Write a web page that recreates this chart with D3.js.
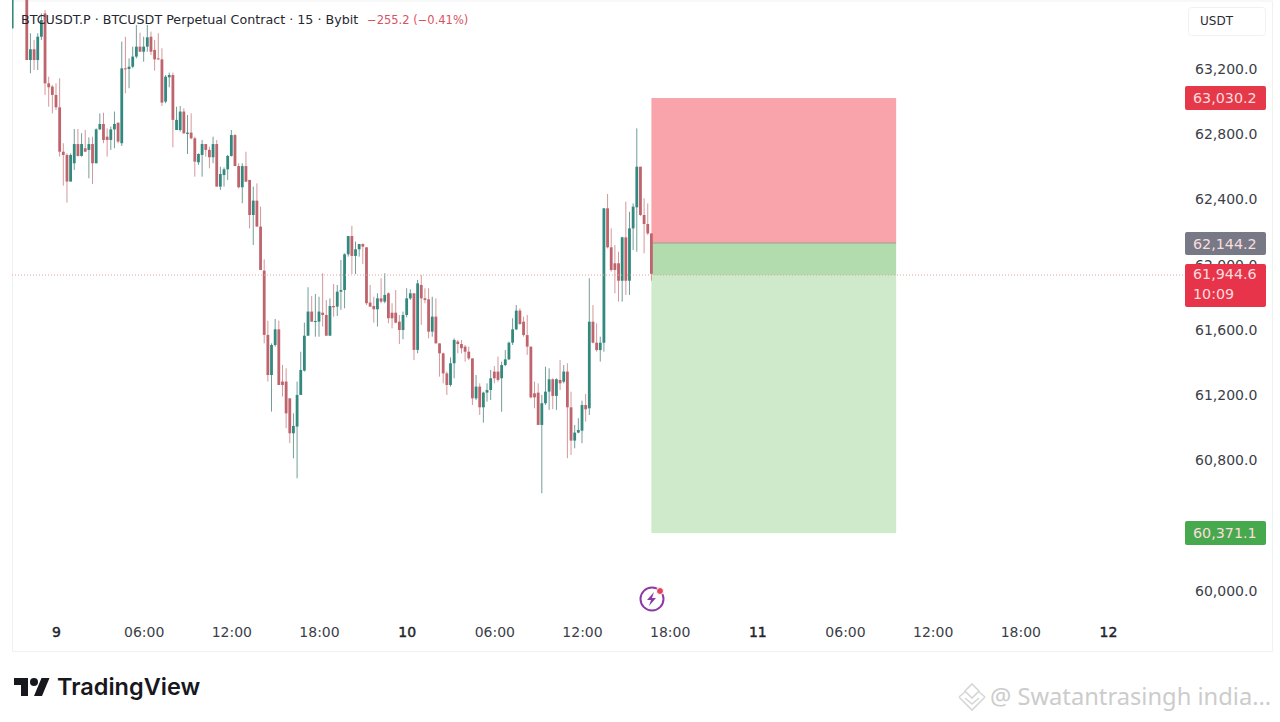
<!DOCTYPE html>
<html>
<head>
  <meta charset="utf-8">
  <title>BTCUSDT.P 15m</title>
  <script src="https://d3js.org/d3.v7.min.js"></script>
  <style>
    html, body { margin: 0; overflow: hidden; height: 100%; background: #fff; }
    text { font-family: "DejaVu Sans", sans-serif; }
    .axis path, .axis line { display: none; }
    .axis text { font-family: "DejaVu Sans", sans-serif; font-size: 14px; fill: #3b3e48; }
  </style>
</head>
<body>
<svg width="1280" height="722"></svg>

<script>
// 15 minute bars, first one is 21:00 the day before the "9" tick
const firstBar = -12;

const opens = [
  63449, null, null, null, 63650, 63255, 63321, 63255, 63398, 63541, 63112, 63092,
  63041, 62965, 62693, 62673, 62510, 62622, 62740, 62667, 62714, 62704,
  62740, 62622, 62830, 62863, 62785, 62765, 62830, 62871, 62745, 63204,
  63200, 63214, 63276, 63337, 63306, 63337, 63398, 63317, 63265, 63259,
  63000, 63149, 63163, 62826, 62826, 62939, 62802, 62810, 62775, 62628,
  62673, 62740, 62704, 62659, 62740, 62479, 62550, 62585, 62667, 62795,
  62605, 62475, 62605, 62520, 62305, 62393, 62234, 61964, 61570, 61324,
  61508, 61604, 61284, 61284, 61181, 60967, 61008, 61202, 61351, 61565,
  61713, 61651, 61651, 61706, 61692, 61565, 61747, 61743, 61835, 61845,
  62064, 62176, 62054, 62095, 62127, 62107, 61768, 61747, 61727, 61794,
  61774, 61825, 61706, 61706, 61651, 61600, 61692, 61794, 61825, 61478,
  61876, 61794, 61788, 61590, 61682, 61518, 61457, 61334, 61263, 61396,
  61529, 61514, 61498, 61467, 61426, 61181, 61253, 61126, 61216, 61232,
  61345, 61345, 61304, 61385, 61420, 61522, 61604, 61719, 61651, 61569,
  61498, 61212, 61216, 61018, 61151, 61222, 61298, 61196, 61294, 61283,
  61345, 61126, 60922, 60971, 60983, 61140, 61120, 61651, 61522, 61477,
  61522, 62346, 62107, 62009, 62009, 61902, 62168, 61902, 62223, 62352,
  62601, 62305, 62250, 62192
];
const closes = [
  63640, null, null, null, 63255, 63321, 63255, 63398, 63500, 63112, 63088, 63041,
  62965, 62693, 62673, 62510, 62673, 62740, 62667, 62740, 62693, 62740,
  62622, 62830, 62863, 62765, 62765, 62830, 62863, 62755, 63204, 63200,
  63214, 63276, 63337, 63306, 63337, 63394, 63306, 63259, 63259, 62994,
  63153, 63163, 62888, 62888, 62939, 62806, 62810, 62775, 62632, 62679,
  62740, 62704, 62659, 62740, 62479, 62556, 62585, 62667, 62795, 62605,
  62475, 62605, 62509, 62305, 62393, 62234, 61968, 61570, 61324, 61508,
  61604, 61263, 61263, 61089, 60967, 61012, 61202, 61355, 61565, 61713,
  61651, 61655, 61713, 61692, 61565, 61747, 61739, 61835, 61845, 62064,
  62176, 62054, 62095, 62127, 62111, 61764, 61743, 61727, 61794, 61774,
  61815, 61672, 61672, 61645, 61600, 61692, 61794, 61825, 61478, 61886,
  61794, 61784, 61590, 61682, 61518, 61457, 61334, 61263, 61396, 61539,
  61514, 61488, 61467, 61426, 61181, 61253, 61126, 61216, 61232, 61304,
  61304, 61294, 61385, 61420, 61522, 61604, 61719, 61637, 61569, 61498,
  61187, 61187, 61018, 61151, 61222, 61298, 61196, 61298, 61273, 61345,
  61126, 60922, 60971, 60987, 61140, 61114, 61651, 61522, 61477, 61522,
  62346, 62107, 61968, 61968, 61902, 62168, 61902, 62223, 62356, 62601,
  62305, 62250, 62192, 61944.6
];
const highs = [
  63640, null, null, null, 63660, 63419, 63378, 63419, 63541, 63562, 63153, 63102,
  63112, 63143, 62745, 62683, 62683, 62832, 62832, 62806, 62826, 62781,
  62785, 62836, 62928, 62932, 62836, 62847, 62939, 62871, 63368, 63398,
  63265, 63337, 63470, 63423, 63398, 63470, 63429, 63378, 63419, 63327,
  63163, 63178, 63178, 62969, 62973, 62959, 62918, 62928, 62785, 62683,
  62765, 62740, 62724, 62785, 62765, 62601, 62597, 62673, 62826, 62801,
  62622, 62622, 62693, 62520, 62479, 62499, 62356, 62033, 61657, 61518,
  61668, 61657, 61386, 61365, 61181, 61089, 61284, 61467, 61645, 61862,
  61809, 61821, 61804, 61948, 61784, 61794, 61882, 61876, 62029, 62070,
  62176, 62238, 62142, 62127, 62131, 62107, 61876, 61804, 61825, 61917,
  61948, 61831, 61764, 61845, 61692, 61713, 61856, 61849, 61825, 61907,
  61937, 61856, 61856, 61804, 61794, 61518, 61461, 61345, 61432, 61549,
  61539, 61539, 61508, 61498, 61426, 61324, 61273, 61222, 61273, 61355,
  61379, 61437, 61406, 61477, 61529, 61672, 61753, 61733, 61682, 61692,
  61498, 61283, 61273, 61202, 61375, 61365, 61304, 61304, 61416, 61385,
  61396, 61222, 61018, 61059, 61167, 61208, 61917, 61753, 61641, 61559,
  62346, 62434, 62223, 62121, 62080, 62172, 62387, 62325, 62376, 62836,
  62601, 62407, 62376, 62192
];
const lows = [
  63449, null, null, null, 63255, 63174, 63194, 63194, 63378, 63041, 62969, 62928,
  62949, 62663, 62485, 62381, 62510, 62581, 62663, 62663, 62693, 62530,
  62495, 62622, 62826, 62745, 62663, 62704, 62714, 62745, 62728, 63051,
  63082, 63204, 63265, 63306, 63245, 63306, 63286, 63190, 63255, 62973,
  62990, 63088, 62720, 62826, 62816, 62802, 62679, 62769, 62540, 62612,
  62540, 62663, 62591, 62622, 62479, 62458, 62479, 62520, 62663, 62605,
  62468, 62377, 62509, 62223, 62121, 62234, 61968, 61518, 61284, 61100,
  61498, 61263, 61192, 60998, 60906, 60814, 60691, 61202, 61345, 61565,
  61651, 61559, 61559, 61621, 61565, 61565, 61682, 61686, 61723, 61733,
  62050, 61943, 61943, 62050, 62005, 61753, 61743, 61645, 61621, 61764,
  61764, 61641, 61610, 61641, 61514, 61543, 61678, 61784, 61416, 61457,
  61631, 61764, 61549, 61559, 61518, 61314, 61273, 61202, 61253, 61304,
  61457, 61457, 61406, 61416, 61140, 61171, 61079, 61032, 61161, 61171,
  61273, 61283, 61099, 61379, 61416, 61508, 61600, 61631, 61559, 61447,
  61181, 61120, 61018, 60599, 61140, 61110, 61114, 61110, 61232, 61273,
  60814, 60834, 60875, 60967, 60906, 61038, 61079, 61518, 61467, 61406,
  61467, 62100, 61958, 61825, 61774, 61774, 61815, 61815, 62090, 62080,
  62299, 62070, 62182, 61902
];

// hours since the "9" tick
const timeTicks = [0, 6, 12, 18, 24, 30, 36, 42, 48, 54, 60, 66, 72];
const timeLabels = ["9", "06:00", "12:00", "18:00", "10", "06:00", "12:00", "18:00", "11", "06:00", "12:00", "18:00", "12"];
// 60,400 sits fully behind the green label, so it is not shown
const priceTicks = [60000, 60800, 61200, 61600, 62000, 62400, 62800, 63200];

// long position tool, edges as they sit on the picture
const zoneEdges = [63022, 62133, 60355];
const zoneBars = [163, 230];
const lastLine = 61937;

const svg = d3.select("svg");

const x = d3.scaleLinear().domain([0, 72]).range([56, 1108]);
const y = d3.scaleLinear().domain([63200, 60000]).range([69, 591]);
const barX = i => x(i * 0.25);

const bars = d3.range(opens.length)
  .map(i => ({ i: i + firstBar, o: opens[i], c: closes[i], h: highs[i], l: lows[i] }))
  .filter(d => d.o !== null);

svg.append("defs").append("clipPath").attr("id", "plot")
  .append("rect").attr("x", 12).attr("y", 0).attr("width", 1160).attr("height", 651);

// frame
const frame = svg.append("g").attr("fill", "none").attr("stroke", "#f0f1f3");
frame.append("path").attr("d", "M12.5 1V651.5H1272.5V1H12.5");

const plot = svg.append("g").attr("clip-path", "url(#plot)");

// position tool
plot.append("rect")
  .attr("x", barX(zoneBars[0])).attr("width", barX(zoneBars[1]) - barX(zoneBars[0]))
  .attr("y", y(zoneEdges[0])).attr("height", y(zoneEdges[1]) - y(zoneEdges[0]))
  .attr("fill", "#f9a4aa");
plot.append("rect")
  .attr("x", barX(zoneBars[0])).attr("width", barX(zoneBars[1]) - barX(zoneBars[0]))
  .attr("y", y(zoneEdges[1])).attr("height", y(lastLine) - y(zoneEdges[1]))
  .attr("fill", "#b2dcae");
plot.append("rect")
  .attr("x", barX(zoneBars[0])).attr("width", barX(zoneBars[1]) - barX(zoneBars[0]))
  .attr("y", y(lastLine)).attr("height", y(zoneEdges[2]) - y(lastLine))
  .attr("fill", "#cfe9cb");
plot.append("line")
  .attr("x1", barX(zoneBars[0])).attr("x2", barX(zoneBars[1]))
  .attr("y1", y(zoneEdges[1])).attr("y2", y(zoneEdges[1]))
  .attr("stroke", "#9aa08f");

// last price line
svg.append("line")
  .attr("x1", 12).attr("x2", 1186)
  .attr("y1", y(lastLine)).attr("y2", y(lastLine))
  .attr("stroke", "#e6a0a2").attr("stroke-dasharray", "1 2");

const upBody = "#34897f", downBody = "#bf646c";
const upWick = "#739d99", downWick = "#d4979b";

const candles = plot.append("g").style("filter", "blur(0.35px)");

candles.append("g").selectAll("line")
  .data(bars)
  .join("line")
  .attr("x1", d => barX(d.i)).attr("x2", d => barX(d.i))
  .attr("y1", d => y(d.h)).attr("y2", d => y(d.l))
  .attr("stroke", d => d.c >= d.o ? upWick : downWick);

candles.append("g").selectAll("rect")
  .data(bars)
  .join("rect")
  .attr("x", d => barX(d.i) - 1.4)
  .attr("width", 2.8)
  .attr("y", d => y(Math.max(d.o, d.c)))
  .attr("height", d => Math.max(1, Math.abs(y(d.o) - y(d.c))))
  .attr("fill", d => d.c >= d.o ? upBody : downBody);

// axes
const yAxis = d3.axisRight(y).tickValues(priceTicks).tickFormat(d3.format(",.1f")).tickSize(0).tickPadding(0);
svg.append("g").attr("class", "axis").attr("transform", "translate(1195,0)").call(yAxis);

const xAxis = d3.axisBottom(x).tickValues(timeTicks).tickFormat((d, i) => timeLabels[i]).tickSize(0).tickPadding(0);
const xg = svg.append("g").attr("class", "axis").attr("transform", "translate(0,627)").call(xAxis);
xg.selectAll("text")
  .attr("stroke", (d, i) => timeLabels[i].length < 3 ? "#23252c" : null)
  .attr("stroke-width", 0.45)
  .style("fill", (d, i) => timeLabels[i].length < 3 ? "#23252c" : "#3b3e48");

// price labels
const labelRows = [
  { top: 86, h: 24, fill: "#e5394a", lines: ["63,030.2"] },
  { top: 232, h: 23, fill: "#777a86", lines: ["62,144.2"] },
  { top: 264, h: 43, fill: "#e8344a", lines: ["61,944.6", "10:09"] },
  { top: 521, h: 24, fill: "#46a94d", lines: ["60,371.1"] }
];
const labels = svg.append("g").selectAll("g").data(labelRows).join("g");
labels.append("rect")
  .attr("x", 1185).attr("width", 81)
  .attr("y", d => d.top).attr("height", d => d.h)
  .attr("rx", 2).attr("fill", d => d.fill);
labels.each(function (d) {
  d3.select(this).selectAll("text").data(d.lines).join("text")
    .attr("x", 1193).attr("y", (t, i) => d.top + (d.lines.length > 1 ? 15 : 17) + i * 20)
    .attr("font-size", 14.3).attr("fill", "#fbdcdd")
    .text(t => t);
});

// currency button
svg.append("rect").attr("x", 1188.5).attr("y", 7.5).attr("width", 77).attr("height", 28).attr("rx", 3)
  .attr("fill", "#fff").attr("stroke", "#f0f1f3");
svg.append("text").attr("x", 1200).attr("y", 25).attr("font-size", 12).attr("fill", "#2a2c34").text("USDT");

// title
svg.append("text").attr("x", 21).attr("y", 24).attr("font-size", 12.7).attr("fill", "#26282f")
  .text("BTCUSDT.P · BTCUSDT Perpetual Contract · 15 · Bybit");
svg.append("text").attr("x", 367).attr("y", 24).attr("font-size", 11.5).attr("fill", "#d9535f").text("−255.2 (−0.41%)");

// flash icon
const flash = svg.append("g").attr("transform", "translate(652,599)");
flash.append("circle").attr("r", 11.5).attr("fill", "#fff").attr("stroke", "#8e3aa6").attr("stroke-width", 2);
flash.append("path").attr("d", "M2 -7L-5 1H-1L-3 7L4 -1H0Z").attr("fill", "#8e3aa6");
flash.append("circle").attr("cx", 8).attr("cy", -8).attr("r", 3.5).attr("fill", "#e0455a").attr("stroke", "#fff");

// TradingView logo
svg.append("g").attr("transform", "translate(14,674)").attr("fill", "#17181d")
  .call(g => {
    g.append("path").attr("d", "M14 22H7V11H0V4h14v18zM28 22h-8l7.5-18h8L28 22z");
    g.append("circle").attr("cx", 20).attr("cy", 8).attr("r", 4);
  });
svg.append("text").attr("x", 57).attr("y", 695)
  .style("font-family", "Inter, sans-serif").attr("font-size", 23.5).attr("font-weight", 600)
  .attr("fill", "#17181d").text("TradingView");

// watermark
const mark = svg.append("g").attr("transform", "translate(972,697)")
  .attr("fill", "none").attr("stroke", "#d6d6d6").attr("stroke-width", 1.6);
mark.append("path").attr("d", "M0 -13L7 -6L0 1L-7 -6ZM-13 0L-7 -5M13 0L7 -5M-13 0L0 13L13 0M-7 1L0 7L7 1");
svg.append("text").attr("x", 990).attr("y", 705)
  .style("font-family", "'Noto Sans', sans-serif").attr("font-size", 23.7).attr("fill", "#cccccc")
  .text("@ Swatantrasingh india...");
</script>
</body>
</html>
